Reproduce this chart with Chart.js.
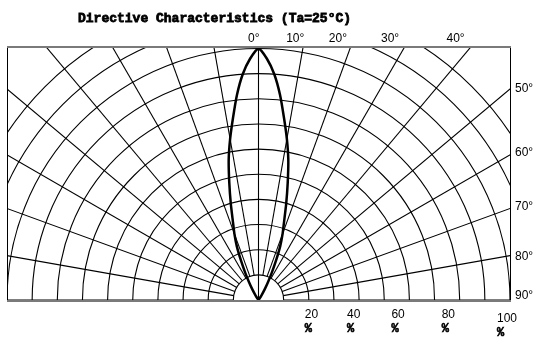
<!DOCTYPE html>
<html>
<head>
<meta charset="utf-8">
<script src="https://cdn.jsdelivr.net/npm/chart.js@4/dist/chart.umd.min.js"></script>
<style>
  html, body { margin: 0; padding: 0; background: #fff; }
  #wrap { width: 538px; height: 339px; position: relative; }
</style>
</head>
<body>
<div id="wrap"><canvas id="polarChart"></canvas></div>
<script>
const lobeAngles = [0, 2, 4, 6, 8, 10, 12, 14, 16, 18, 20, 22, 24, 26, 28, 30, 33, 36];
const lobeIntensity = [100, 96, 90, 82, 73, 65, 57, 48, 40, 33, 28, 23, 17, 12, 8, 5, 2, 0];

// grid
const ringValues = [10, 20, 30, 40, 50, 60, 70, 80, 90, 100, 110, 120];
const spokeAngles = [-90, -80, -70, -60, -50, -40, -30, -20, -10, 0, 10, 20, 30, 40, 50, 60, 70, 80, 90];

// tick labels
const topAngleLabels = [0, 10, 20, 30, 40];
const sideAngleLabels = [50, 60, 70, 80, 90];
const percentLabels = [20, 40, 60, 80, 100];

const titleText = 'Directive Characteristics (Ta=25°C)';

// small hand nudges so the labels sit where the datasheet put them
const topLabelNudge = [1, 1, -4, -6, -7];
const sideLabelNudge = [0, -2, -2, 1, -4];
const percentNudge = [-4, -12, -18, -18, -13];

const lobePoints = [];
for (let i = lobeAngles.length - 1; i >= 0; i--) {
  const t = -lobeAngles[i] * Math.PI / 180;
  lobePoints.push({ x: lobeIntensity[i] * Math.sin(t), y: lobeIntensity[i] * Math.cos(t) });
}
for (let i = 1; i < lobeAngles.length; i++) {
  const t = lobeAngles[i] * Math.PI / 180;
  lobePoints.push({ x: lobeIntensity[i] * Math.sin(t), y: lobeIntensity[i] * Math.cos(t) });
}

const polarGrid = {
  id: 'polarGrid',
  beforeDatasetsDraw(chart) {
    const { ctx, chartArea: a, scales: { x, y } } = chart;
    const cx = x.getPixelForValue(0);
    const cy = y.getPixelForValue(0);
    const unit = x.getPixelForValue(10) - cx;
    ctx.save();
    ctx.beginPath();
    ctx.rect(a.left, a.top, a.right - a.left, a.bottom - a.top);
    ctx.clip();
    ctx.strokeStyle = '#000';
    ctx.lineWidth = 1.1;
    ringValues.forEach((v) => {
      const r = x.getPixelForValue(v) - cx;
      ctx.beginPath();
      ctx.arc(cx, cy, r, Math.PI, 2 * Math.PI);
      ctx.stroke();
    });
    spokeAngles.forEach((deg) => {
      const t = deg * Math.PI / 180;
      const r0 = deg === 0 ? 0 : unit;
      const r1 = x.getPixelForValue(200) - cx;
      ctx.beginPath();
      ctx.moveTo(cx + r0 * Math.sin(t), cy - r0 * Math.cos(t));
      ctx.lineTo(cx + r1 * Math.sin(t), cy - r1 * Math.cos(t));
      ctx.stroke();
    });
    ctx.restore();
  },
  afterDraw(chart) {
    const { ctx, chartArea: a, scales: { x, y } } = chart;
    const cx = x.getPixelForValue(0);
    const cy = y.getPixelForValue(0);
    ctx.save();

    // frame
    ctx.strokeStyle = '#000';
    ctx.lineWidth = 1;
    ctx.beginPath();
    ctx.moveTo(a.left + 0.5, a.top);
    ctx.lineTo(a.left + 0.5, a.bottom);
    ctx.moveTo(a.right + 0.5, a.top);
    ctx.lineTo(a.right + 0.5, a.bottom);
    ctx.stroke();
    ctx.strokeStyle = '#7a7a7a';
    ctx.lineWidth = 2;
    ctx.beginPath();
    ctx.moveTo(a.left, a.top + 1);
    ctx.lineTo(a.right + 1, a.top + 1);
    ctx.moveTo(a.left, a.bottom + 1);
    ctx.lineTo(a.right + 1, a.bottom + 1);
    ctx.stroke();

    ctx.fillStyle = '#000';
    ctx.strokeStyle = '#000';

    // title, stroked a little to get the heavy datasheet look
    ctx.font = 'bold 13px "Liberation Mono", "DejaVu Sans Mono", monospace';
    ctx.textAlign = 'left';
    ctx.textBaseline = 'alphabetic';
    ctx.lineWidth = 0.8;
    ctx.fillText(titleText, 78, 22);
    ctx.strokeText(titleText, 78, 22);

    ctx.font = '12px "Liberation Sans", Arial, sans-serif';

    // angles along the top edge
    const topDy = cy - a.top;
    topAngleLabels.forEach((deg, i) => {
      const hx = cx + topDy * Math.tan(deg * Math.PI / 180);
      ctx.textAlign = 'right';
      ctx.fillText(deg + '°', hx + topLabelNudge[i], 42);
    });

    // angles along the right edge
    const sideDx = a.right - cx;
    sideAngleLabels.forEach((deg, i) => {
      const hy = deg === 90 ? cy : cy - sideDx / Math.tan(deg * Math.PI / 180);
      ctx.textAlign = 'left';
      ctx.textBaseline = 'middle';
      ctx.fillText(deg + '°', a.right + 5, hy + sideLabelNudge[i]);
    });

    // percent scale under the axis
    percentLabels.forEach((v, i) => {
      const lx = x.getPixelForValue(v) + percentNudge[i];
      const drop = v === 100 ? 4 : 0;
      ctx.textAlign = 'left';
      ctx.textBaseline = 'alphabetic';
      ctx.font = '12px "Liberation Sans", Arial, sans-serif';
      ctx.fillText(String(v), lx, 318 + drop);
      ctx.font = 'bold 12px "Liberation Mono", monospace';
      ctx.lineWidth = 0.6;
      ctx.fillText('%', lx, 332 + drop);
      ctx.strokeText('%', lx, 332 + drop);
    });

    ctx.restore();
  }
};

new Chart(document.getElementById('polarChart').getContext('2d'), {
  type: 'scatter',
  data: {
    datasets: [
      {
        data: lobePoints,
        showLine: true,
        borderColor: '#000',
        borderWidth: 2.5,
        pointRadius: 0,
        tension: 0.2,
        fill: false,
      },
    ],
  },
  options: {
    responsive: true,
    maintainAspectRatio: false,
    animation: false,
    layout: { padding: { left: 7, right: 28, top: 46, bottom: 39 } },
    scales: {
      x: { type: 'linear', min: -100, max: 100, display: false },
      y: { type: 'linear', min: 0, max: 101, display: false },
    },
    plugins: {
      legend: { display: false },
      tooltip: { enabled: false },
    },
  },
  plugins: [polarGrid],
});
</script>
</body>
</html>
